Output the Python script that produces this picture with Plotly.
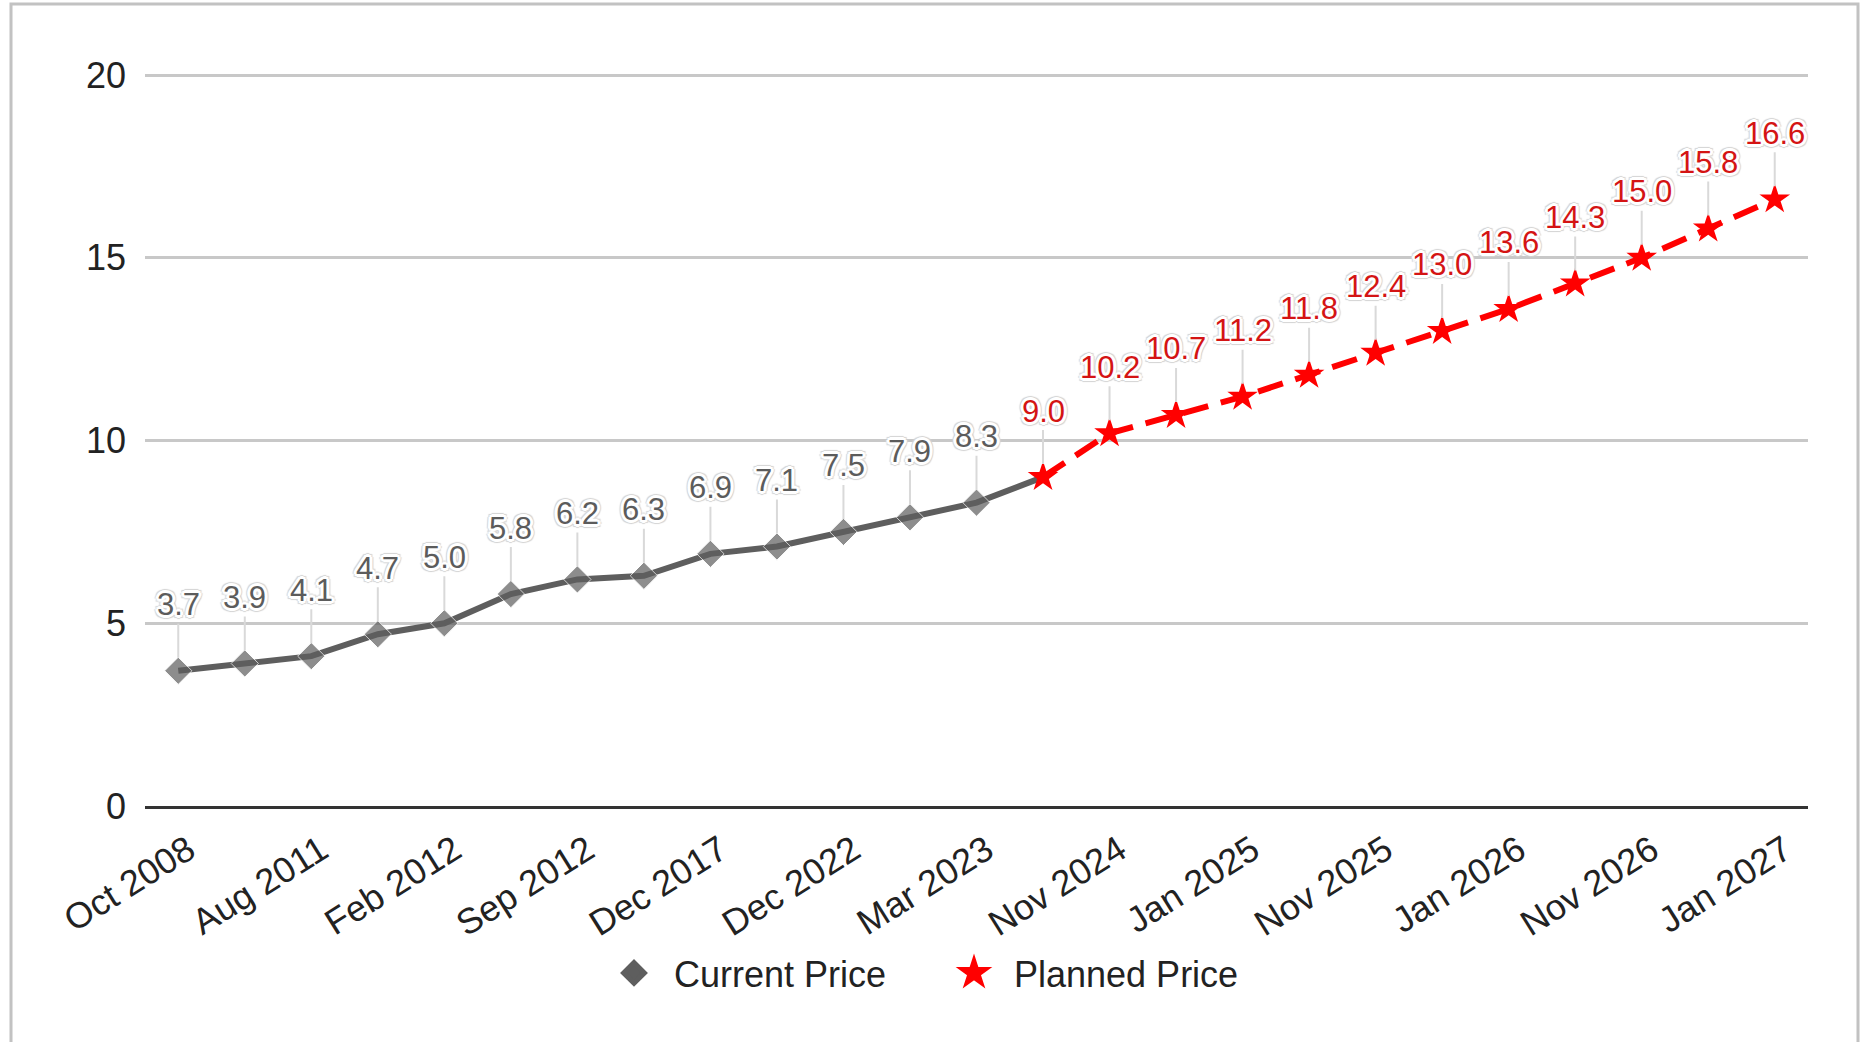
import plotly.graph_objects as go

# ---- data -------------------------------------------------------------
tick_labels = ["Oct 2008", "Aug 2011", "Feb 2012", "Sep 2012", "Dec 2017",
               "Dec 2022", "Mar 2023", "Nov 2024", "Jan 2025", "Nov 2025",
               "Jan 2026", "Nov 2026", "Jan 2027"]
current_price = [3.7, 3.9, 4.1, 4.7, 5.0, 5.8, 6.2, 6.3, 6.9, 7.1, 7.5, 7.9, 8.3]
planned_price = [9.0, 10.2, 10.7, 11.2, 11.8, 12.4, 13.0, 13.6, 14.3, 15.0, 15.8, 16.6]
y_ticks = [0, 5, 10, 15, 20]

# ---- layout constants -------------------------------------------------
W, H = 1863, 1042
M_L, M_R, M_T, M_B = 145, 55, 74, 236
PLOT_W = W - M_L - M_R
PLOT_H = H - M_T - M_B

GRAY = "#5e5e5e"
RED = "#ff0000"
LABEL_GRAY = "#5c5c5c"
LABEL_RED = "#d41414"
LEADER = "#d9d9d9"
TEXT_FONT = "Liberation Sans, Arial, sans-serif"
# white halo with a faint grey rim around the value labels
HALO = ", ".join(
    [f"{dx}px {dy}px 0 #fff" for dx, dy in
     ((-2, -2), (2, -2), (-2, 2), (2, 2), (0, -3), (0, 3), (-3, 0), (3, 0))]
    + [f"{dx}px {dy}px 1px #d4d4d4" for dx, dy in
       ((-3, -3), (3, -3), (-3, 3), (3, 3), (0, -4), (0, 4), (-4, 0), (4, 0))]
)

n_cur = len(current_price)
x_cur = list(range(n_cur + 1))                       # last point joins the planned series
y_cur = current_price + [planned_price[0]]
x_plan = list(range(n_cur, n_cur + len(planned_price)))
n_all = n_cur + len(planned_price)

fig = go.Figure()

fig.add_trace(go.Scatter(
    x=x_cur, y=y_cur, name="Current Price", mode="lines+markers",
    line=dict(color=GRAY, width=6),
    marker=dict(symbol="diamond", color=GRAY, size=[21] * n_cur + [0]),
    showlegend=False,
))

fig.add_trace(go.Scatter(
    x=x_plan, y=planned_price, name="Planned Price", mode="lines+markers",
    line=dict(color=RED, width=6, dash="26px,13px"),
    marker=dict(symbol="star", color=RED, size=23),
    showlegend=False,
))

# legend entries show the marker symbol only
fig.add_trace(go.Scatter(
    x=[None], y=[None], name="Current Price", mode="markers",
    marker=dict(symbol="diamond", color=GRAY, size=16,
                line=dict(color=GRAY, width=5)),
))
fig.add_trace(go.Scatter(
    x=[None], y=[None], name="Planned Price", mode="markers",
    marker=dict(symbol="star", color=RED, size=16,
                line=dict(color=RED, width=5)),
))

# value labels with leader lines
annotations = []
for xs, ys, col in ((list(range(n_cur)), current_price, LABEL_GRAY),
                    (x_plan, planned_price, LABEL_RED)):
    for xv, yv in zip(xs, ys):
        annotations.append(dict(
            x=xv, y=yv, xref="x", yref="y",
            text=f"{yv:.1f}",
            showarrow=True, arrowhead=0, arrowwidth=2, arrowcolor=LEADER,
            ax=0, ay=-66, standoff=13,
            font=dict(family=TEXT_FONT, size=31, color=col, shadow=HALO),
        ))

# outer frame of the chart
frame_px = dict(x0=11, x1=1858, y0=4, y1=H + 20)
shapes = [dict(
    type="rect", xref="paper", yref="paper",
    x0=(frame_px["x0"] - M_L) / PLOT_W, x1=(frame_px["x1"] - M_L) / PLOT_W,
    y1=(H - M_B - frame_px["y0"]) / PLOT_H, y0=(H - M_B - frame_px["y1"]) / PLOT_H,
    line=dict(color="#c2c2c2", width=3), fillcolor="rgba(0,0,0,0)", layer="below",
)]

fig.update_layout(
    width=W, height=H,
    margin=dict(l=M_L, r=M_R, t=M_T, b=M_B),
    paper_bgcolor="white", plot_bgcolor="white",
    font=dict(family=TEXT_FONT, size=36, color="#222222"),
    showlegend=True,
    legend=dict(
        orientation="h", x=(934 - M_L) / PLOT_W, xanchor="center",
        y=(H - M_B - 973) / PLOT_H, yanchor="middle",
        font=dict(family=TEXT_FONT, size=36, color="#222222"),
        itemwidth=70, entrywidth=255, bgcolor="rgba(0,0,0,0)",
    ),
    annotations=annotations,
    shapes=shapes,
    hovermode=False,
)

fig.update_xaxes(
    range=[-0.5, n_all - 0.5],
    tickmode="array",
    tickvals=list(range(0, n_all, 2)),
    ticktext=tick_labels,
    tickangle=-32,
    tickfont=dict(family=TEXT_FONT, size=36, color="#222222"),
    showgrid=False, zeroline=False,
    showline=True, linecolor="#333333", linewidth=3,
    ticks="", ticklabelstandoff=6, ticklabelshift=10,
)

fig.update_yaxes(
    range=[0, 20.03],
    tickmode="array", tickvals=y_ticks,
    tickfont=dict(family=TEXT_FONT, size=36, color="#222222"),
    showgrid=True, gridcolor="#c8c8c8", gridwidth=3,
    zeroline=False, showline=False,
    ticks="", ticklabelstandoff=18,
)

fig.write_html("out.html")
